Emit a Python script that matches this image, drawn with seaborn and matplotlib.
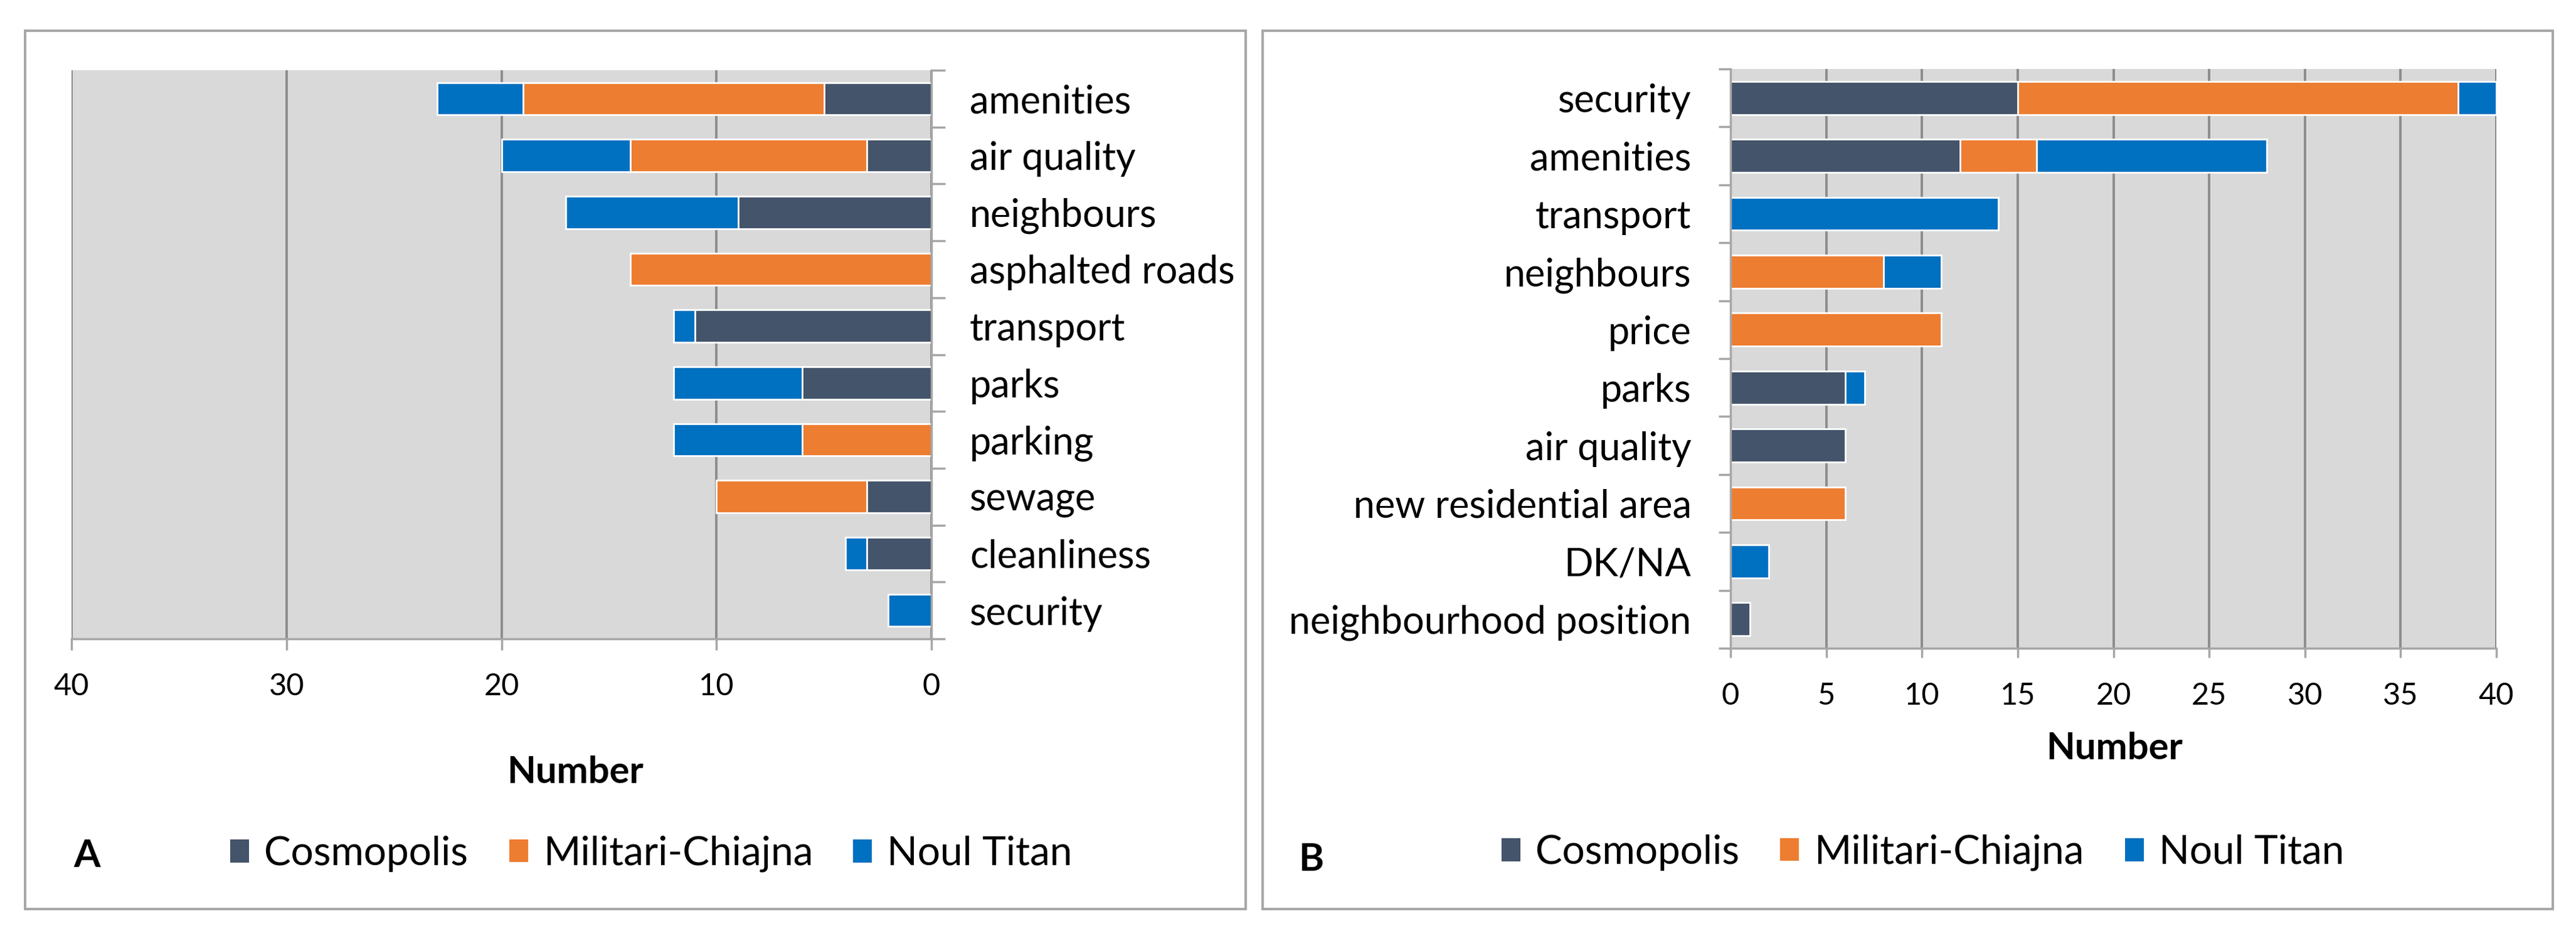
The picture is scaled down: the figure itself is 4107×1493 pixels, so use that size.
import numpy as np
import pandas as pd
import matplotlib
matplotlib.use('Agg')
import matplotlib.pyplot as plt
import seaborn as sns
from matplotlib.patches import Patch, Rectangle
from matplotlib.ticker import FixedLocator, MultipleLocator

# Panel A
cats_a = ['amenities', 'air quality', 'neighbours', 'asphalted roads', 'transport',
          'parks', 'parking', 'sewage', 'cleanliness', 'security']
cosmo_a = [5, 3, 9, 0, 11, 6, 0, 3, 3, 0]
milit_a = [14, 11, 0, 14, 0, 0, 6, 7, 0, 0]
titan_a = [4, 6, 8, 0, 1, 6, 6, 0, 1, 2]

# Panel B
cats_b = ['security', 'amenities', 'transport', 'neighbours', 'price', 'parks',
          'air quality', 'new residential area', 'DK/NA', 'neighbourhood position']
cosmo_b = [15, 12, 0, 0, 0, 6, 6, 0, 0, 1]
milit_b = [23, 4, 0, 8, 11, 0, 0, 6, 0, 0]
titan_b = [2, 12, 14, 3, 0, 1, 0, 0, 2, 0]

series = ['Cosmopolis', 'Militari-Chiajna', 'Noul Titan']
colors = ['#44546A', '#ED7D31', '#0070C0']

plt.rcParams['font.family'] = ['Lato', 'DejaVu Sans']
W, H = 4107, 1493
fig = plt.figure(figsize=(W / 100, H / 100), dpi=100)

GRID = '#8C8C8C'
AXC = '#A6A6A6'
LAB = 44
TICK = 35
LEG = 46


def stacked(ax, cats, c, m, n):
    df = pd.DataFrame({'cat': cats, 'c': c, 'm': m, 'n': n})
    df['cm'] = df['c'] + df['m']
    df['cmn'] = df['cm'] + df['n']
    # longest first, shorter cumulative bars painted on top
    for col, seg, color in [('cmn', 'n', colors[2]), ('cm', 'm', colors[1]), ('c', 'c', colors[0])]:
        sub = df[df[seg] > 0]
        sns.barplot(data=sub, x=col, y='cat', order=cats, orient='h', color=color,
                    saturation=1, width=0.57, edgecolor='white', linewidth=2,
                    errorbar=None, ax=ax)
    ax.set_xlabel('')
    ax.set_ylabel('')
    ax.set_ylim(len(cats) - 0.5, -0.5)
    ax.set_facecolor('#D9D9D9')
    ax.set_axisbelow(True)
    ax.xaxis.grid(True, color=GRID, lw=2.8)
    ax.yaxis.grid(False)
    ax.yaxis.set_minor_locator(FixedLocator(np.arange(-0.5, len(cats), 1)))
    for s in ax.spines.values():
        s.set_color(AXC)
        s.set_linewidth(2.5)


# ---------------- panel A ----------------
ax1 = fig.add_axes([114 / W, 1 - 1019 / H, 1371 / W, 907 / H])
stacked(ax1, cats_a, cosmo_a, milit_a, titan_a)
ax1.set_xlim(40, 0)
ax1.xaxis.set_major_locator(MultipleLocator(10))
ax1.yaxis.tick_right()
ax1.spines['top'].set_visible(False)
ax1.spines['left'].set_visible(False)
ax1.tick_params(axis='y', which='major', length=0, pad=44, labelsize=LAB)
ax1.tick_params(axis='y', which='minor', length=16, width=2.5, color=AXC, right=True, left=False)
ax1.tick_params(axis='x', length=13, width=2.5, color=AXC, pad=26, labelsize=TICK)

# ---------------- panel B ----------------
ax2 = fig.add_axes([2759 / W, 1 - 1034 / H, 1221 / W, 924 / H])
stacked(ax2, cats_b, cosmo_b, milit_b, titan_b)
ax2.set_xlim(0, 40)
ax2.xaxis.set_major_locator(MultipleLocator(5))
ax2.spines['top'].set_visible(False)
ax2.spines['right'].set_visible(False)
ax2.tick_params(axis='y', which='major', length=0, pad=45, labelsize=LAB)
ax2.tick_params(axis='y', which='minor', length=14, width=2.5, color=AXC, left=True)
ax2.tick_params(axis='x', length=11, width=2.5, color=AXC, pad=28, labelsize=TICK)

# frames around panels
for x0, x1 in [(40, 1986), (2013, 4070)]:
    fig.patches.append(Rectangle((x0 / W, 1 - 1450 / H), (x1 - x0) / W, 1401 / H,
                                 transform=fig.transFigure, fill=False,
                                 edgecolor=AXC, lw=2.8))

# axis titles
fig.text(917 / W, 1 - 1232 / H, 'Number', ha='center', va='center', fontsize=43, fontweight='bold')
fig.text(3371 / W, 1 - 1194 / H, 'Number', ha='center', va='center', fontsize=43, fontweight='bold')

# panel letters
fig.text(139 / W, 1 - 1365 / H, 'A', ha='center', va='center', fontsize=LAB, fontweight='bold')
fig.text(2090 / W, 1 - 1371 / H, 'B', ha='center', va='center', fontsize=LAB, fontweight='bold')

# legends, one entry each so the keys sit where Excel put them
leg_pos = [([367, 812, 1360], 1362), ([2394, 2838, 3388], 1360)]
for xs, yl in leg_pos:
    for xl, lab, col in zip(xs, series, colors):
        fig.legend([Patch(facecolor=col, edgecolor='none')], [lab], loc='center left',
                   bbox_to_anchor=(xl / W, 1 - yl / H), frameon=False, fontsize=LEG,
                   handlelength=0.47, handleheight=0.5, handletextpad=0.37,
                   borderpad=0, borderaxespad=0)

fig.savefig('out.png', dpi=100)
